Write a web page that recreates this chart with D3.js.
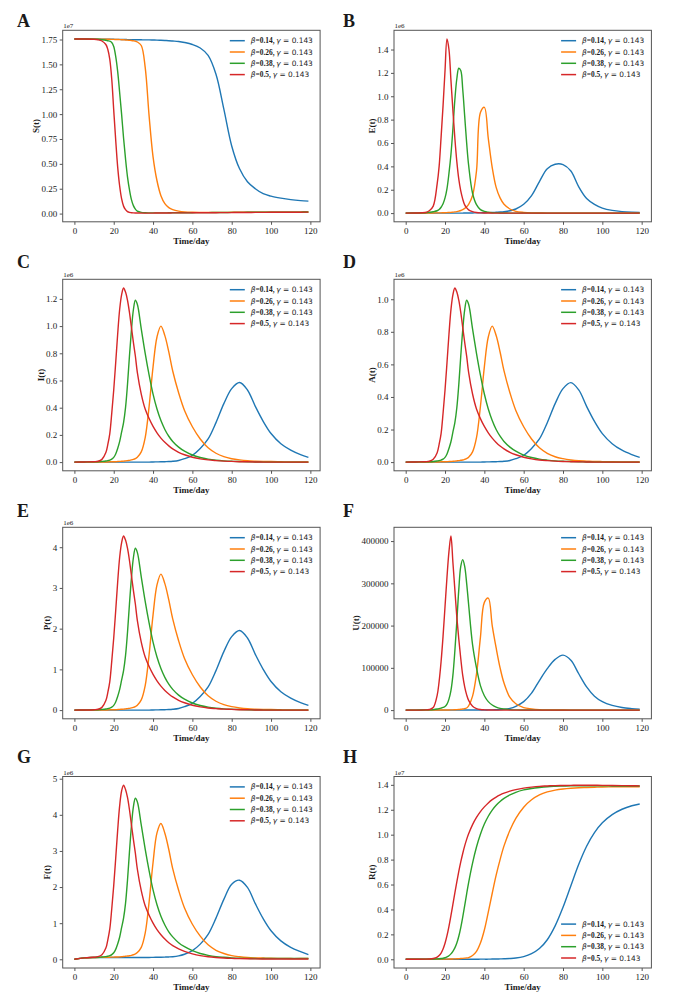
<!DOCTYPE html>
<html>
<head>
<meta charset="utf-8">
<script src="https://cdn.jsdelivr.net/npm/d3@7"></script>
<style>
  body { margin: 0; background: #fff; }
  svg text { font-family: "Liberation Serif", "Times New Roman", serif; fill: #1a1a1a; }
</style>
</head>
<body>
<svg id="fig" width="685" height="997"></svg>
<script>
// shared time grid (days)
var days = [0,5,10,12,14,16,17,18,19,20, 21,22,23,24,25,26,27,28,29,30,31,32,
  34,36,38,40,42,44,46,48,50, 53,56,60,64,68,72,76,80,84,88,92,96,100,105,110,115,119];

var betas = ['0.14', '0.26', '0.38', '0.5'];
var gammaVal = '0.143';
var colors = ['#1f77b4', '#ff7f0e', '#2ca02c', '#d62728'];
var xTicks = [0, 20, 40, 60, 80, 100, 120];

// S(t), units of 1e7
var S014 = [1.755,1.755,1.754,1.754,1.753,1.753,1.753,1.752,1.752,1.752,
  1.751,1.751,1.751,1.750,1.750,1.750,1.749,1.749,1.749,1.748,1.748,1.748,
  1.747,1.746,1.746,1.745,1.744,1.742,1.740,1.738,1.735,
  1.730,1.720,1.700,1.665,1.590,1.400,1.050,0.680,0.450,0.320,0.250,0.200,0.175,0.155,0.140,0.130,0.125];
var S026 = [1.755,1.755,1.754,1.754,1.753,1.753,1.752,1.752,1.751,1.751,
  1.750,1.750,1.749,1.748,1.747,1.745,1.744,1.742,1.740,1.737,1.733,1.725,
  1.690,1.470,0.980,0.570,0.330,0.180,0.100,0.060,0.040,
  0.025,0.017,0.013,0.012,0.012,0.012,0.012,0.013,0.013,0.013,0.014,0.014,0.014,0.015,0.015,0.015,0.016];
var S038 = [1.755,1.755,1.754,1.752,1.748,1.742,1.737,1.733,1.720,1.680,
  1.580,1.430,1.220,1.000,0.760,0.550,0.370,0.240,0.140,0.080,0.045,0.025,
  0.012,0.008,0.007,0.007,0.007,0.007,0.007,0.008,0.008,
  0.008,0.009,0.009,0.010,0.010,0.011,0.011,0.012,0.012,0.013,0.013,0.014,0.014,0.015,0.015,0.015,0.016];
var S05 = [1.755,1.755,1.752,1.747,1.735,1.700,1.650,1.550,1.350,1.040,
  0.740,0.470,0.280,0.150,0.075,0.040,0.020,0.012,0.009,0.007,0.006,0.006,
  0.005,0.005,0.005,0.005,0.006,0.006,0.006,0.006,0.007,
  0.007,0.007,0.008,0.008,0.009,0.009,0.010,0.010,0.011,0.011,0.012,0.012,0.013,0.013,0.014,0.014,0.015];

// E(t), units of 1e6
var E014 = [0,0,0,0,0,0,0,0,0,0,
  0,0,0,0,0,0,0,0,0,0.001,0.001,0.001,
  0.001,0.002,0.002,0.003,0.004,0.005,0.007,0.009,0.012,
  0.020,0.035,0.075,0.150,0.270,0.380,0.418,0.415,0.360,0.225,0.125,0.075,0.043,0.023,0.013,0.008,0.006];
var E026 = [0,0,0.001,0.001,0.001,0.002,0.002,0.002,0.003,0.003,
  0.004,0.005,0.006,0.008,0.010,0.013,0.017,0.022,0.030,0.040,0.055,0.075,
  0.150,0.360,0.860,0.905,0.640,0.390,0.220,0.130,0.075,
  0.035,0.015,0.006,0.002,0.001,0,0,0,0,0,0,0,0,0,0,0,0];
var E038 = [0,0.001,0.003,0.007,0.012,0.020,0.030,0.050,0.080,0.130,
  0.210,0.340,0.500,0.720,0.970,1.150,1.240,1.220,1.060,0.830,0.600,0.410,
  0.170,0.072,0.030,0.014,0.007,0.003,0.002,0.001,0.001,
  0,0,0,0,0,0,0,0,0,0,0,0,0,0,0,0,0];
var E05 = [0,0.001,0.005,0.020,0.060,0.250,0.400,0.650,0.920,1.220,
  1.490,1.400,1.140,0.880,0.640,0.440,0.290,0.190,0.120,0.070,0.045,0.028,
  0.012,0.005,0.002,0.001,0.001,0,0,0,0,
  0,0,0,0,0,0,0,0,0,0,0,0,0,0,0,0,0];

// I(t), units of 1e6
var I014 = [0,0,0,0,0,0,0,0,0,0,
  0,0,0,0,0,0,0,0,0,0,0,0,
  0,0,0,0.001,0.0015,0.002,0.003,0.004,0.006,
  0.012,0.025,0.050,0.100,0.170,0.290,0.430,0.540,0.585,0.530,0.410,0.300,0.210,0.135,0.088,0.055,0.035];
var I026 = [0,0,0,0,0.001,0.001,0.001,0.002,0.002,0.003,
  0.003,0.004,0.005,0.006,0.007,0.009,0.011,0.013,0.016,0.020,0.026,0.036,
  0.075,0.180,0.410,0.700,0.920,1.000,0.930,0.810,0.670,
  0.510,0.380,0.260,0.170,0.105,0.065,0.040,0.025,0.016,0.010,0.007,0.005,0.004,0.002,0.001,0.001,0.001];
var I038 = [0,0.001,0.002,0.003,0.005,0.008,0.011,0.015,0.022,0.035,
  0.060,0.100,0.150,0.220,0.290,0.400,0.570,0.780,0.970,1.120,1.190,1.160,
  0.980,0.800,0.640,0.500,0.390,0.305,0.240,0.190,0.152,
  0.110,0.080,0.052,0.034,0.022,0.014,0.009,0.006,0.004,0.002,0.001,0,0,0,0,0,0];
var I05 = [0,0.001,0.003,0.006,0.020,0.070,0.130,0.210,0.360,0.530,
  0.730,0.940,1.120,1.230,1.280,1.250,1.190,1.100,0.990,0.880,0.780,0.660,
  0.500,0.390,0.320,0.262,0.215,0.176,0.145,0.119,0.097,
  0.072,0.054,0.036,0.024,0.016,0.011,0.007,0.005,0.003,0.002,0.001,0,0,0,0,0,0];

// A(t), units of 1e6
var A014 = [0,0,0,0,0,0,0,0,0,0,
  0,0,0,0,0,0,0,0,0,0,0,0,
  0,0,0,0.001,0.0013,0.0017,0.0025,0.0033,0.005,
  0.010,0.021,0.042,0.084,0.142,0.242,0.359,0.451,0.488,0.443,0.342,0.250,0.175,0.113,0.073,0.046,0.029];
var A026 = [0,0,0,0,0.001,0.001,0.001,0.0017,0.0017,0.0025,
  0.0025,0.0033,0.004,0.005,0.006,0.0075,0.009,0.011,0.013,0.017,0.022,0.030,
  0.063,0.150,0.342,0.585,0.768,0.835,0.777,0.676,0.560,
  0.426,0.317,0.217,0.142,0.088,0.054,0.033,0.021,0.013,0.008,0.006,0.004,0.003,0.002,0.001,0.001,0.001];
var A038 = [0,0.001,0.002,0.0025,0.004,0.007,0.009,0.0125,0.018,0.029,
  0.050,0.084,0.125,0.184,0.242,0.334,0.476,0.651,0.810,0.935,0.994,0.969,
  0.818,0.668,0.534,0.418,0.326,0.255,0.200,0.159,0.127,
  0.092,0.067,0.043,0.028,0.018,0.012,0.0075,0.005,0.0033,0.0017,0.001,0,0,0,0,0,0];
var A05 = [0,0.001,0.0025,0.005,0.017,0.058,0.109,0.175,0.300,0.443,
  0.610,0.785,0.935,1.027,1.069,1.044,0.994,0.919,0.827,0.735,0.651,0.551,
  0.418,0.326,0.267,0.219,0.180,0.147,0.121,0.099,0.081,
  0.060,0.045,0.030,0.020,0.013,0.009,0.006,0.004,0.0025,0.0017,0.001,0,0,0,0,0,0];

// P(t), units of 1e6
var P014 = [0,0,0,0,0,0,0,0,0,0,
  0,0,0,0,0,0,0,0,0,0,0,0,
  0,0,0,0.003,0.005,0.007,0.010,0.013,0.020,
  0.040,0.084,0.167,0.334,0.568,0.969,1.436,1.804,1.954,1.770,1.369,1.002,0.701,0.451,0.294,0.184,0.117];
var P026 = [0,0,0,0,0.003,0.003,0.003,0.007,0.007,0.010,
  0.010,0.013,0.017,0.020,0.023,0.030,0.037,0.043,0.053,0.067,0.087,0.120,
  0.250,0.601,1.369,2.338,3.073,3.340,3.106,2.705,2.238,
  1.703,1.269,0.868,0.568,0.351,0.217,0.134,0.084,0.053,0.033,0.023,0.017,0.013,0.007,0.003,0.003,0.003];
var P038 = [0,0.003,0.007,0.010,0.017,0.027,0.037,0.050,0.073,0.117,
  0.200,0.334,0.501,0.735,0.969,1.336,1.904,2.605,3.240,3.741,3.975,3.874,
  3.273,2.672,2.138,1.670,1.303,1.019,0.802,0.635,0.508,
  0.367,0.267,0.174,0.114,0.073,0.047,0.030,0.020,0.013,0.007,0.003,0,0,0,0,0,0];
var P05 = [0,0.003,0.010,0.020,0.067,0.234,0.434,0.701,1.202,1.770,
  2.438,3.140,3.741,4.108,4.275,4.175,3.975,3.674,3.307,2.939,2.605,2.204,
  1.670,1.303,1.069,0.875,0.718,0.588,0.484,0.397,0.324,
  0.240,0.180,0.120,0.080,0.053,0.037,0.023,0.017,0.010,0.007,0.003,0,0,0,0,0,0];

// U(t), persons
var U014 = [0,0,0,0,0,0,0,0,0,0,
  0,0,0,0,0,0,0,0,0,100,100,100,
  150,200,250,300,450,600,900,1200,1800,
  4000,9000,20000,40000,70000,98000,120000,130000,118000,86000,55000,33000,20000,11000,6000,3500,2200];
var U026 = [0,0,0,0,0,50,80,100,150,200,
  300,400,500,600,800,1000,1400,2000,2700,3500,5000,10000,
  33000,85000,172000,255000,265000,200000,147000,100000,64000,
  30000,15000,6000,3000,1200,500,200,100,0,0,0,0,0,0,0,0,0];
var U038 = [0,0,500,500,1200,2500,3500,4800,6300,8500,
  14000,26000,46000,82000,140000,210000,285000,340000,356000,340000,300000,250000,
  155000,100000,58000,34000,20000,12000,7000,4000,2500,
  1200,600,300,100,0,0,0,0,0,0,0,0,0,0,0,0,0];
var U05 = [0,0,500,1500,6000,35000,68000,115000,175000,245000,
  315000,375000,412000,350000,285000,220000,168000,122000,82000,55000,36000,23000,
  9000,3500,1400,600,200,100,0,0,0,
  0,0,0,0,0,0,0,0,0,0,0,0,0,0,0,0,0];

// F(t), units of 1e6
var F014 = [0,0.040,0.050,0.050,0.050,0.050,0.050,0.050,0.050,0.050,
  0.050,0.050,0.050,0.050,0.050,0.050,0.050,0.050,0.050,0.050,0.050,0.050,
  0.050,0.050,0.050,0.054,0.056,0.058,0.061,0.065,0.072,
  0.095,0.140,0.240,0.420,0.690,1.140,1.660,2.080,2.190,1.990,1.540,1.125,0.790,0.510,0.330,0.210,0.130];
var F026 = [0,0.040,0.050,0.050,0.054,0.055,0.056,0.058,0.060,0.061,
  0.063,0.065,0.068,0.072,0.076,0.084,0.090,0.099,0.110,0.125,0.148,0.185,
  0.330,0.725,1.590,2.680,3.500,3.760,3.490,3.040,2.510,
  1.910,1.420,0.970,0.640,0.400,0.250,0.160,0.100,0.070,0.050,0.040,0.035,0.030,0.025,0.020,0.020,0.020];
var F038 = [0,0.040,0.050,0.055,0.065,0.075,0.085,0.100,0.130,0.180,
  0.275,0.425,0.610,0.875,1.140,1.550,2.190,2.975,3.690,4.220,4.460,4.360,
  3.720,3.050,2.450,1.920,1.510,1.190,0.950,0.760,0.620,
  0.460,0.350,0.240,0.160,0.110,0.075,0.055,0.040,0.030,0.025,0.020,0.020,0.020,0.020,0.020,0.020,0.020];
var F05 = [0,0.040,0.056,0.072,0.125,0.310,0.540,0.840,1.400,2.040,
  2.790,3.570,4.240,4.660,4.820,4.700,4.480,4.140,3.730,3.320,2.940,2.500,
  1.900,1.480,1.220,1.000,0.820,0.680,0.560,0.460,0.380,
  0.290,0.220,0.150,0.100,0.070,0.050,0.035,0.025,0.018,0.014,0.012,0.010,0.010,0.010,0.010,0.010,0.010];

// R(t), units of 1e7
var R014 = [0,0,0,0,0,0,0,0,0,0,
  0,0,0,0,0,0,0,0,0,0,0,0,
  0,0,0.001,0.001,0.001,0.002,0.002,0.003,0.004,
  0.006,0.010,0.022,0.045,0.086,0.157,0.268,0.417,0.590,0.762,0.907,1.016,1.095,1.161,1.204,1.232,1.246];
var R026 = [0,0,0,0,0.001,0.001,0.001,0.001,0.001,0.0013,
  0.0016,0.0019,0.0023,0.0028,0.0033,0.004,0.0049,0.006,0.0073,0.009,0.011,0.014,
  0.030,0.063,0.130,0.235,0.378,0.530,0.675,0.800,0.910,
  1.035,1.130,1.220,1.280,1.319,1.343,1.358,1.367,1.373,1.377,1.379,1.381,1.383,1.384,1.385,1.385,1.385];
var R038 = [0,0.0003,0.001,0.0015,0.0023,0.0036,0.0047,0.0062,0.0085,0.0123,
  0.0187,0.0287,0.0435,0.064,0.0917,0.1306,0.1847,0.2549,0.3387,0.4313,0.5255,0.6158,
  0.7722,0.9009,1.0035,1.085,1.148,1.197,1.236,1.267,1.291,
  1.319,1.340,1.359,1.371,1.379,1.385,1.388,1.390,1.392,1.392,1.392,1.392,1.392,1.391,1.391,1.391,1.391];
var R05 = [0,0.0004,0.0012,0.0024,0.0062,0.0173,0.0297,0.0504,0.0828,0.1286,
  0.1894,0.2643,0.3498,0.4411,0.5332,0.6219,0.7052,0.7813,0.8493,0.9097,0.9621,1.0065,
  1.0805,1.138,1.185,1.223,1.255,1.281,1.302,1.319,1.333,
  1.350,1.362,1.374,1.382,1.388,1.391,1.394,1.395,1.396,1.397,1.397,1.397,1.396,1.395,1.394,1.393,1.392];

// y tick labels per panel
var ticksS = ['0.00','0.25','0.50','0.75','1.00','1.25','1.50','1.75'];
var ticksE = ['0.0','0.2','0.4','0.6','0.8','1.0','1.2','1.4'];
var ticksI = ['0.0','0.2','0.4','0.6','0.8','1.0','1.2'];
var ticksA = ['0.0','0.2','0.4','0.6','0.8','1.0'];
var ticksP = ['0','1','2','3','4'];
var ticksU = ['0','100000','200000','300000','400000'];
var ticksF = ['0','1','2','3','4','5'];
var ticksR = ['0.0','0.2','0.4','0.6','0.8','1.0','1.2','1.4'];

var panels = [
  { letter: 'A', ylab: 'S(t)', series: [S014, S026, S038, S05], ticks: ticksS, offset: '1e7', legend: 'top' },
  { letter: 'B', ylab: 'E(t)', series: [E014, E026, E038, E05], ticks: ticksE, offset: '1e6', legend: 'top' },
  { letter: 'C', ylab: 'I(t)', series: [I014, I026, I038, I05], ticks: ticksI, offset: '1e6', legend: 'top' },
  { letter: 'D', ylab: 'A(t)', series: [A014, A026, A038, A05], ticks: ticksA, offset: '1e6', legend: 'top' },
  { letter: 'E', ylab: 'P(t)', series: [P014, P026, P038, P05], ticks: ticksP, offset: '1e6', legend: 'top' },
  { letter: 'F', ylab: 'U(t)', series: [U014, U026, U038, U05], ticks: ticksU, offset: '', legend: 'top' },
  { letter: 'G', ylab: 'F(t)', series: [F014, F026, F038, F05], ticks: ticksF, offset: '1e6', legend: 'top' },
  { letter: 'H', ylab: 'R(t)', series: [R014, R026, R038, R05], ticks: ticksR, offset: '1e7', legend: 'bottom' }
];

// layout
var colLeft = [62.7, 394], boxW = 257.4;
var rowTop = [30.3, 279.3, 527.3, 776.5], boxH = 191.5;
var letterX = [17, 343], letterY = [27, 268, 517, 763];
var axisCol = '#555';

var svg = d3.select('#fig');

panels.forEach(function (p, i) {
  var col = i % 2, row = Math.floor(i / 2);
  var x0 = colLeft[col], y0 = rowTop[row];

  var x = d3.scaleLinear().domain([-5.95, 124.95]).range([x0, x0 + boxW]);
  var all = d3.merge(p.series);
  var lo = d3.min(all), hi = d3.max(all), pad = (hi - lo) * 0.05;
  var y = d3.scaleLinear().domain([lo - pad, hi + pad]).range([y0 + boxH, y0]);

  var g = svg.append('g');

  // curves
  var line = d3.line()
    .x(function (d, j) { return x(days[j]); })
    .y(function (d) { return y(d); })
    .curve(d3.curveCatmullRom.alpha(0.5));
  g.selectAll('path.series')
    .data(p.series)
    .enter().append('path')
    .attr('class', 'series')
    .attr('fill', 'none')
    .attr('stroke', function (d, k) { return colors[k]; })
    .attr('stroke-width', 1.4)
    .attr('d', line);

  // frame
  g.append('rect')
    .attr('x', x0).attr('y', y0)
    .attr('width', boxW).attr('height', boxH)
    .attr('fill', 'none').attr('stroke', axisCol).attr('stroke-width', 1);

  // x axis
  var xa = g.append('g')
    .attr('transform', 'translate(0,' + (y0 + boxH) + ')')
    .call(d3.axisBottom(x).tickValues(xTicks).tickFormat(function (d) { return d; })
      .tickSize(3).tickPadding(2.5));
  xa.select('.domain').remove();
  xa.attr('font-family', null).attr('font-size', 9);
  xa.selectAll('line').attr('stroke', axisCol);

  // y axis
  var yVals = p.ticks.map(function (t) { return +t; });
  var ya = g.append('g')
    .attr('transform', 'translate(' + x0 + ',0)')
    .call(d3.axisLeft(y).tickValues(yVals)
      .tickFormat(function (d, k) { return p.ticks[k]; })
      .tickSize(3).tickPadding(2.5));
  ya.select('.domain').remove();
  ya.attr('font-family', null).attr('font-size', 9);
  ya.selectAll('line').attr('stroke', axisCol);

  var maxW = d3.max(ya.selectAll('text').nodes(), function (n) { return n.getBBox().width; });
  var labX = x0 - 5.5 - maxW - 5;

  g.append('text')
    .attr('transform', 'translate(' + labX + ',' + (y0 + boxH / 2) + ') rotate(-90)')
    .attr('text-anchor', 'middle').attr('dy', '0.35em')
    .attr('font-size', 9).attr('font-weight', 'bold')
    .text(p.ylab);

  g.append('text')
    .attr('x', x0 + boxW / 2).attr('y', y0 + boxH + 22.3)
    .attr('text-anchor', 'middle')
    .attr('font-size', 9).attr('font-weight', 'bold')
    .text('Time/day');

  if (p.offset) {
    g.append('text')
      .attr('x', x0 + 0.5).attr('y', y0 - 2)
      .attr('font-size', 7)
      .text(p.offset);
  }

  // panel letter
  g.append('text')
    .attr('x', letterX[col]).attr('y', letterY[row])
    .attr('font-size', 18).attr('font-weight', 'bold')
    .attr('fill', '#000')
    .text(p.letter);

  // legend
  var lfs = 7.4, pitch = 11.3;
  var leg = g.append('g');
  var rows = leg.selectAll('g.row').data(betas).enter().append('g').attr('class', 'row');
  var texts = rows.append('text')
    .attr('font-size', lfs)
    .attr('dy', '0.35em');
  texts.append('tspan')
    .style('font-family', '"DejaVu Sans", sans-serif').style('font-style', 'italic')
    .text('\u03b2');
  texts.append('tspan')
    .style('font-family', '"Liberation Serif", serif').style('font-weight', 'bold')
    .text(function (b) { return '=' + b + ', '; });
  texts.append('tspan')
    .style('font-family', '"DejaVu Sans", sans-serif').style('font-style', 'italic')
    .text('\u03b3');
  texts.append('tspan')
    .style('font-family', '"DejaVu Sans", sans-serif')
    .text(' = ' + gammaVal);

  var textW = d3.max(texts.nodes(), function (n) { return n.getComputedTextLength(); });
  var textX = x0 + boxW - 7.3 - textW;
  var lineX = textX - 6 - 15;
  var firstY = p.legend === 'top' ? y0 + 10.4 : y0 + boxH - 10 - pitch * 3;

  rows.attr('transform', function (d, k) { return 'translate(0,' + (firstY + k * pitch) + ')'; });
  rows.insert('line', 'text')
    .attr('x1', lineX).attr('x2', lineX + 15)
    .attr('y1', 0).attr('y2', 0)
    .attr('stroke', function (d, k) { return colors[k]; })
    .attr('stroke-width', 1.5);
  texts.attr('x', textX);
});
</script>
</body>
</html>
